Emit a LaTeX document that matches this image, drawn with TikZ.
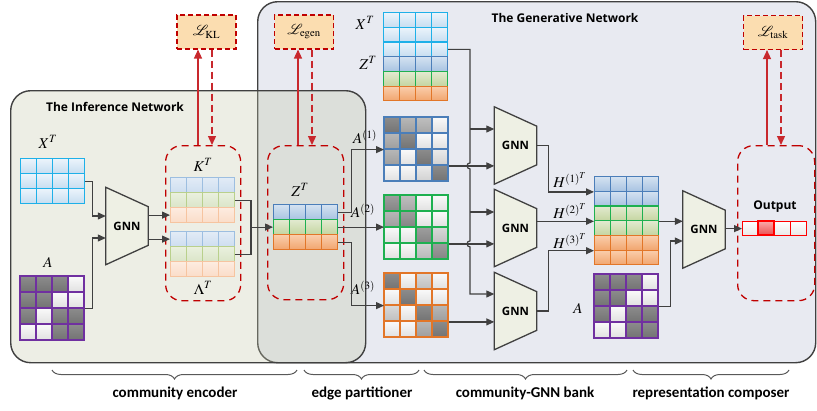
\documentclass[tikz,border=0pt]{standalone}
\usepackage{mathptmx}
\usepackage{fontspec}
\setsansfont{Carlito}
\newfontfamily\titlefont{Open Sans}
\usetikzlibrary{positioning, arrows.meta, decorations.pathreplacing, calc}

\definecolor{infofill}{RGB}{195,198,168}
\definecolor{genfill}{RGB}{232,234,241}
\definecolor{frame}{RGB}{64,64,64}
\definecolor{lossred}{RGB}{192,0,0}
\definecolor{lossarrow}{RGB}{200,40,45}
\definecolor{lossfill}{RGB}{251,221,176}
\definecolor{gnnfill}{RGB}{238,240,228}
\definecolor{xcyan}{RGB}{30,176,232}
\definecolor{zblue}{RGB}{75,126,185}
\definecolor{zgreen}{RGB}{30,176,80}
\definecolor{zorange}{RGB}{226,118,40}
\definecolor{kblue}{RGB}{157,190,224}
\definecolor{kgreen}{RGB}{185,208,140}
\definecolor{korange}{RGB}{246,196,160}
\definecolor{apurple}{RGB}{112,48,160}
\definecolor{outred}{RGB}{255,0,0}
\definecolor{xtop}{RGB}{236,244,251}
\definecolor{xbot}{RGB}{198,221,240}
\definecolor{zbtop}{RGB}{212,226,241}
\definecolor{zbbot}{RGB}{168,195,225}
\definecolor{zgtop}{RGB}{226,234,208}
\definecolor{zgbot}{RGB}{196,213,160}
\definecolor{zotop}{RGB}{250,206,172}
\definecolor{zobot}{RGB}{241,165,110}
\definecolor{kbtop}{RGB}{226,235,246}
\definecolor{kbbot}{RGB}{206,222,240}
\definecolor{kgtop}{RGB}{234,240,222}
\definecolor{kgbot}{RGB}{218,229,200}
\definecolor{kotop}{RGB}{253,236,224}
\definecolor{kobot}{RGB}{250,220,200}
\definecolor{wbot}{RGB}{232,232,232}
\definecolor{redtop}{RGB}{250,170,170}
\definecolor{redbot}{RGB}{235,80,80}

% 4x4 adjacency grid: name, x, y, border, 16 gray levels
\newcommand{\adjgrid}[5]{%
  \foreach \adjv [count=\adji from 0] in {#5} {
    \pgfmathtruncatemacro{\adjr}{\adji/4}
    \pgfmathtruncatemacro{\adjc}{mod(\adji,4)}
    \pgfmathtruncatemacro{\adjb}{\adjv+10}
    \draw[draw=#4, line width=1.2pt, top color=black!\adjv, bottom color=black!\adjb]
      ({#2+\adjc*16},{#3+\adjr*16}) rectangle ++(16,16);
  }
  \node[draw=#4, line width=1.2pt, minimum size=64pt, inner sep=0pt, anchor=north west] (#1) at (#2,#3) {};}

% GNN trapezoid: name, centre
\newcommand{\gnnunit}[2]{%
  \node[gnnbox] (#1) at (#2) {};
  \draw[gnnedge] (#1.north west) -- ($(#1.north east)!.25!(#1.south east)$)
    -- ($(#1.south east)!.25!(#1.north east)$) -- (#1.south west) -- cycle;
  \node[gnntext] (#1-t) at (#1) {GNN};}

\begin{document}
\begin{tikzpicture}[
    x=1pt, y=-1pt,
    line/.style={draw=frame, line width=1.2pt},
    arrow/.style={line, -{Triangle[length=8pt, width=7pt]}},
    lossup/.style={draw=lossarrow, line width=1.3pt, -{Triangle[length=9pt, width=8pt]}},
    lossdown/.style={lossup, dash pattern=on 7pt off 4pt},
    panel/.style={draw=frame, line width=1.4pt, rounded corners=20pt, anchor=north west, inner sep=0pt},
    region/.style={draw=lossred, line width=1.3pt, dash pattern=on 7pt off 5pt, rounded corners=16pt, anchor=north west, inner sep=0pt},
    lossbox/.style={draw=lossred, line width=1.1pt, dash pattern=on 5pt off 3pt, fill=lossfill, minimum width=59pt, minimum height=34pt, inner sep=0pt, font=\fontsize{14.5}{15}\selectfont},
    title/.style={font=\titlefont\bfseries\fontsize{12}{14}\selectfont, inner sep=0pt},
    mlabel/.style={font=\fontsize{15}{16}\selectfont, inner sep=0pt},
    bracelab/.style={font=\sffamily\bfseries\fontsize{15}{17}\selectfont, inner sep=0pt},
    brace/.style={decorate, decoration={brace, amplitude=9pt, mirror}, draw=black!65, line width=1pt},
    gnnbox/.style={minimum width=42pt, minimum height=77pt, inner sep=0pt},
    gnnedge/.style={draw=frame, line width=1.3pt, fill=gnnfill},
    gnntext/.style={font=\titlefont\bfseries\fontsize{11.5}{12}\selectfont, inner sep=0pt},
    featrow/.style n args={3}{draw=#1, top color=#2, bottom color=#3, line width=1.2pt,
      minimum width=64pt, minimum height=15pt, inner sep=0pt, anchor=north west,
      path picture={\foreach \k in {1,2,3} {\draw[#1, line width=1.2pt]
        ([xshift=\k*16pt]path picture bounding box.north west) --
        ([xshift=\k*16pt]path picture bounding box.south west);}}},
    xrow/.style={featrow={xcyan}{xtop}{xbot}},
    zbrow/.style={featrow={zblue}{zbtop}{zbbot}},
    zgrow/.style={featrow={zgreen}{zgtop}{zgbot}},
    zorow/.style={featrow={zorange}{zotop}{zobot}},
    kbrow/.style={featrow={kblue}{kbtop}{kbbot}},
    kgrow/.style={featrow={kgreen}{kgtop}{kgbot}},
    korow/.style={featrow={korange}{kotop}{kobot}},
    outrow/.style={featrow={outred}{white}{wbot}, minimum height=14pt},
]
\useasboundingbox (0,0) rectangle (817,410);

% panels
\node[panel, fill=genfill, minimum width=558pt, minimum height=361pt] (genpanel) at (257,1) {};
\node[panel, fill=infofill, fill opacity=.3, minimum width=355pt, minimum height=272pt] (infpanel) at (10,90) {};
\node[title] (inftitle) at (115,107) {The Inference Network};
\node[title] (gentitle) at (565,18) {The Generative Network};

% losses and their regions
\node[lossbox] (lkl) at (206.5,32) {$\mathcal{L}_{\mathrm{KL}}$};
\node[lossbox] (legen) at (304,32) {$\mathcal{L}_{\mathrm{egen}}$};
\node[lossbox] (ltask) at (773,32.5) {$\mathcal{L}_{\mathrm{task}}$};
\node[region, minimum width=75pt, minimum height=155pt] (regenc) at (165,145) {};
\node[region, minimum width=76pt, minimum height=154pt] (regpart) at (267,145) {};
\node[region, minimum width=77pt, minimum height=155pt] (regout) at (737,145) {};

\coordinate (klup) at ($(lkl.south)+(-8.5,0)$);
\coordinate (kldn) at ($(lkl.south)+(5.5,0)$);
\coordinate (egup) at ($(legen.south)+(-6,0)$);
\coordinate (egdn) at ($(legen.south)+(8,0)$);
\coordinate (tkup) at ($(ltask.south)+(-6,0)$);
\coordinate (tkdn) at ($(ltask.south)+(8,0)$);
\draw[lossup] (klup |- regenc.north) -- (klup);
\draw[lossdown] (kldn) -- (kldn |- regenc.north);
\draw[lossup] (egup |- regpart.north) -- (egup);
\draw[lossdown] (egdn) -- (egdn |- regpart.north);
\draw[lossup] (tkup |- regout.north) -- (tkup);
\draw[lossdown] (tkdn) -- (tkdn |- regout.north);

% community encoder
\node[mlabel] (xinlab) at (48,142) {$X^T$};
\foreach \r in {1,2,3} \node[xrow] (xin\r) at (20,{143+15*\r}) {};
\node[mlabel] (ainlab) at (48,262) {$A$};
\adjgrid{ain}{20}{276}{apurple}{45,45,45,2, 45,45,2,2, 45,2,45,45, 2,2,45,45}
\gnnunit{gnnenc}{127,226}
\draw[arrow] (xin2.east) -- ++(7,0) |- ($(gnnenc.west)+(0,-10)$);
\draw[arrow] (ain.east) -- ++(7,0) |- ($(gnnenc.west)+(0,12)$);

\node[mlabel] (ktlab) at (203,165) {$K^T$};
\node[kbrow] (kt1) at (170,177) {};
\node[kgrow] (kt2) at (170,192) {};
\node[korow] (kt3) at (170,207) {};
\node[kbrow] (lt1) at (170,231) {};
\node[kgrow] (lt2) at (170,246) {};
\node[korow] (lt3) at (170,261) {};
\node[mlabel] (ltlab) at (203,288) {$\Lambda^T$};
\draw[arrow] (gnnenc.east |- kt3) -- (kt3.west);
\draw[arrow] (gnnenc.east |- lt1) -- (lt1.west);

% edge partitioner
\node[mlabel] (ztlab) at (300,190) {$Z^T$};
\node[zbrow] (zt1) at (273,204) {};
\node[zgrow] (zt2) at (273,219) {};
\node[zorow] (zt3) at (273,234) {};
\coordinate (kmerge) at ($(zt2.west)+(-22,0)$);
\draw[line] (kt2.east) -| (kmerge);
\draw[line] (lt2.east) -| (kmerge);
\draw[arrow] (kmerge) -- (zt2.west);

\node[mlabel] (aonelab) at (365,137) {$A^{(1)}$};
\node[mlabel] (atwolab) at (363,211) {$A^{(2)}$};
\node[mlabel] (athreelab) at (363,288) {$A^{(3)}$};
\adjgrid{aone}{384}{117}{zblue}{45,28,25,2, 28,45,2,2, 28,2,45,8, 2,2,8,45}
\adjgrid{atwo}{384}{195}{zgreen}{38,25,2,2, 28,38,2,2, 2,2,38,15, 2,2,18,38}
\adjgrid{athree}{384}{273}{zorange}{45,2,15,2, 2,45,2,2, 15,2,45,28, 2,2,28,45}
\draw[arrow] (zt1.east) -- ++(13,0) |- (aone.west);
\draw[arrow] (zt2.east) -- (atwo.west |- zt2.east);
\draw[arrow] (zt3.east) -- ++(13,0) |- (athree.west);

% community-GNN bank
\node[mlabel] (txlab) at (365,23) {$X^T$};
\node[mlabel] (tzlab) at (368,63) {$Z^T$};
\node[xrow, minimum height=14.7pt] (tx1) at (383,12) {};
\node[xrow, minimum height=14.7pt] (tx2) at (383,26.7) {};
\node[xrow, minimum height=14.7pt] (tx3) at (383,41.4) {};
\node[zbrow, minimum height=14.7pt] (tz1) at (383,56.1) {};
\node[zgrow, minimum height=14.7pt] (tz2) at (383,70.8) {};
\node[zorow, minimum height=14.7pt] (tz3) at (383,85.5) {};

\gnnunit{gnnone}{515.5,145.5}
\gnnunit{gnntwo}{515.5,228}
\gnnunit{gnnthree}{515.5,311}
\coordinate (busx) at (470,0);
\coordinate (aoneout) at ($(aone.north east)!.75!(aone.south east)$);
\coordinate (atwoout) at ($(atwo.north east)!.75!(atwo.south east)$);
\coordinate (athreeout) at ($(athree.north east)!.75!(athree.south east)$);
\coordinate (gonein) at ($(gnnone.west)+(0,-16.5)$);
\coordinate (gtwoin) at ($(gnntwo.west)+(0,-16)$);
\coordinate (gthreein) at ($(gnnthree.west)+(0,-17)$);
\draw[arrow] (tx3.east) -| ($(busx |- aoneout)+(0,-3)$) arc (270:90:3)
  -- ($(busx |- atwoout)+(0,-3)$) arc (270:90:3) |- (gthreein);
\draw[arrow] (busx |- gonein) -- (gonein);
\draw[arrow] (busx |- gtwoin) -- (gtwoin);
\draw[arrow] (aoneout) -- (gnnone.west |- aoneout);
\draw[arrow] (atwoout) -- (gnntwo.west |- atwoout);
\draw[arrow] (athreeout) -- (gnnthree.west |- athreeout);

% representation composer
\node[zbrow, minimum height=14.7pt] (h1a) at (594,176) {};
\node[zbrow, minimum height=14.7pt] (h1b) at (594,190.7) {};
\node[zgrow, minimum height=14.7pt] (h2a) at (594,205.4) {};
\node[zgrow, minimum height=14.7pt] (h2b) at (594,220.1) {};
\node[zorow, minimum height=14.7pt] (h3a) at (594,234.8) {};
\node[zorow, minimum height=14.7pt] (h3b) at (594,249.5) {};
\draw[arrow] (gnnone.east) -- ++(12,0) |- (h1a.south west);
\draw[arrow] (gnntwo.east |- h2a.south west) -- (h2a.south west);
\draw[arrow] (gnnthree.east) -- ++(12,0) |- (h3a.south west);
\node[mlabel] (honelab) at (570,180) {$H^{(1)^T}$};
\node[mlabel] (htwolab) at (570,211) {$H^{(2)^T}$};
\node[mlabel] (hthreelab) at (570,241) {$H^{(3)^T}$};

\node[mlabel] (acomplab) at (578,308) {$A$};
\adjgrid{acomp}{594}{274}{apurple}{45,45,45,2, 45,45,2,2, 45,2,45,45, 2,2,45,45}
\gnnunit{gnncomp}{704,229.5}
\draw[arrow] (h2a.south east) -- (gnncomp.west |- h2a.south east);
\draw[arrow] (acomp.east) -- ++(11,0) |- ($(gnncomp.west)+(0,11.5)$);

\node[title] (outlab) at (775,207) {Output};
\node[outrow] (outv) at (742,221) {};
\draw[outred, line width=1.2pt, top color=redtop, bottom color=redbot] ($(outv.north west)+(16,0)$) rectangle ++(16,14);
\draw[arrow] (gnncomp.east |- outv.west) -- (outv.west);

% stage braces
\draw[brace] (52,370) -- (297,370);
\draw[brace] (304,370) -- (419,370);
\draw[brace] (424,370) -- (627,370);
\draw[brace] (633,370) -- (789,370);
\node[bracelab] (stenc) at (175,393) {community encoder};
\node[bracelab] (stpart) at (362,393) {edge partitioner};
\node[bracelab] (stbank) at (525,393) {community-GNN bank};
\node[bracelab] (stcomp) at (711,393) {representation composer};
\end{tikzpicture}
\end{document}
